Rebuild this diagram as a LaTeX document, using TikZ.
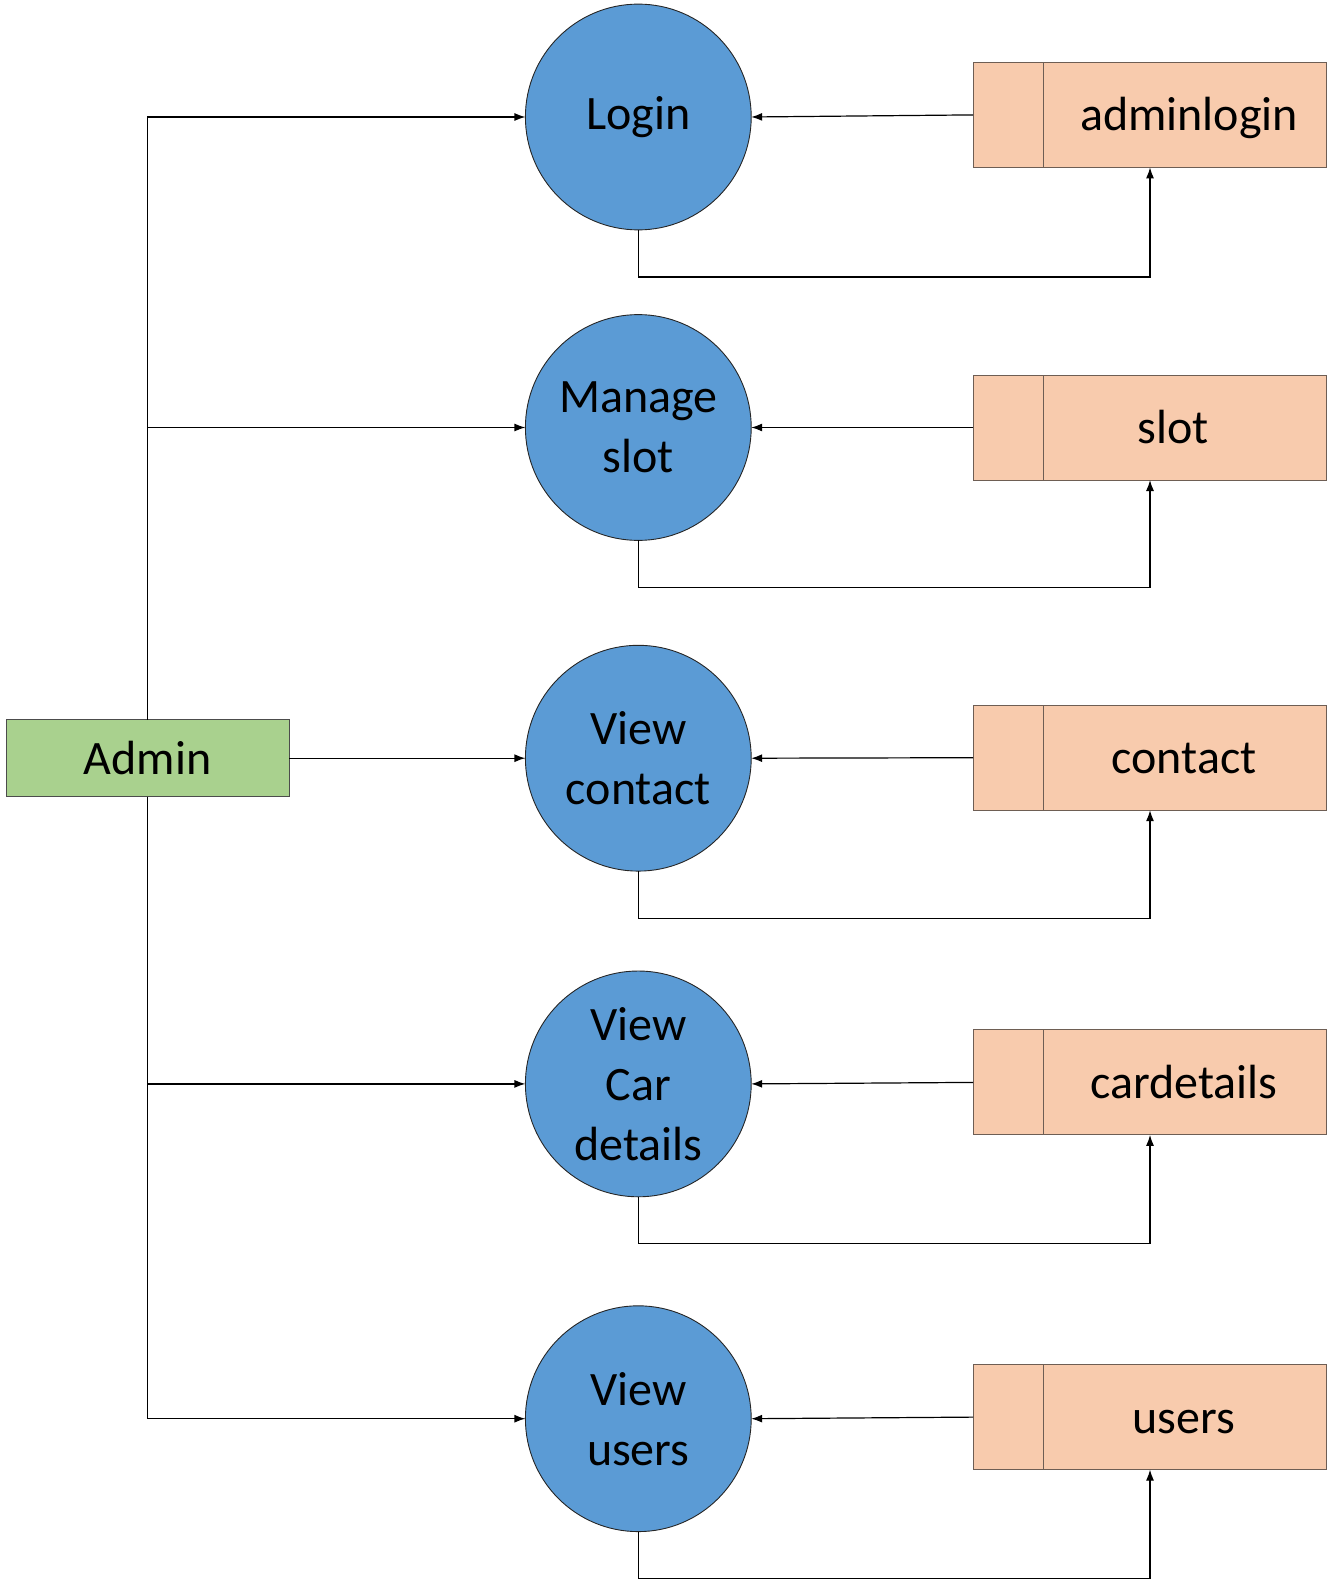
\documentclass[tikz,border=0pt]{standalone}
\usepackage{fontspec}
\setmainfont{Carlito}
\usetikzlibrary{arrows.meta,calc}
\definecolor{procblue}{HTML}{5B9BD5}
\definecolor{storefill}{HTML}{F8CBAD}
\definecolor{adminfill}{HTML}{A9D18E}
\definecolor{storeedge}{HTML}{6E5E54}
\tikzset{
  x=1pt,y=-1pt,
  proc/.style={circle,draw=black!85,line width=0.9pt,fill=procblue,minimum size=225.8pt,inner sep=0pt,outer sep=0pt,align=center,font=\fontsize{48}{60}\selectfont},
  store/.style={rectangle,draw=storeedge,line width=1pt,fill=storefill,minimum width=353.9pt,minimum height=105pt,inner sep=0pt,outer sep=0pt},
  storetext/.style={font=\fontsize{48}{60}\selectfont,inner sep=0pt,anchor=base},
  ent/.style={rectangle,draw=black!70,line width=0.9pt,fill=adminfill,minimum width=283.4pt,minimum height=76.7pt,inner sep=0pt,outer sep=0pt,font=\fontsize{48}{60}\selectfont},
  arr/.style={line width=1.2pt,-{Latex[length=11pt,width=8pt]}},
}
\begin{document}
\begin{tikzpicture}
\useasboundingbox (0,0) rectangle (1334,1581);
% processes
\node[proc] (c1) at (638.3,117.0) {Login};
\node[proc] (c2) at (638.3,427.5) {Manage\\slot};
\node[proc] (c3) at (638.3,758.2) {View\\contact};
\node[proc] (c4) at (638.3,1083.9) {View\\Car\\details};
\node[proc] (c5) at (638.3,1418.7) {View\\users};
% stores
\foreach \n/\y/\t/\tx in {1/114.9/adminlogin/1189,2/427.5/slot/1173,3/757.7/contact/1184,4/1082.4/cardetails/1184,5/1417.1/users/1184}{
  \node[store] (s\n) at (1150,\y) {};
  \draw[storeedge,line width=1pt] ($(s\n.north west)+(70.6,0)$) -- ($(s\n.south west)+(70.6,0)$);
  \node[storetext] (t\n) at (\tx,\y+16) {\t};
}
% entity
\node[ent] (admin) at (147.7,758.2) {Admin};
% admin flows
\draw[arr] (admin.north) |- (c1.west);
\draw[arr] (admin.north) |- (c2.west);
\draw[arr] (admin.east) -- (c3.west);
\draw[arr] (admin.south) |- (c4.west);
\draw[arr] (admin.south) |- (c5.west);
% store to process, process to store
\foreach \n in {1,...,5}{
  \draw[arr] (s\n.west) -- (c\n.east);
  \draw[arr] (c\n.south) -- ++(0,47) -| (s\n.south);
}
\end{tikzpicture}
\end{document}
